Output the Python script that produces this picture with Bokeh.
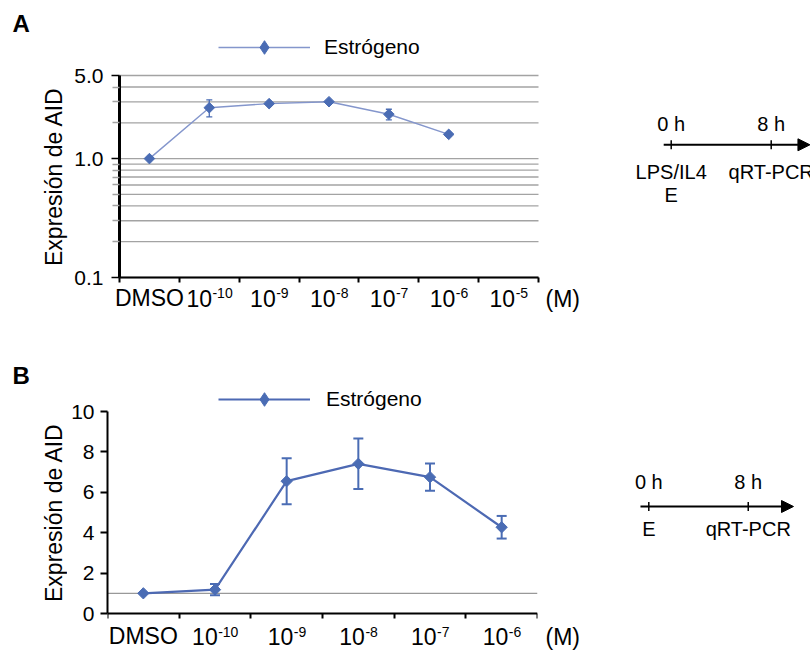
import numpy as np
from bokeh.plotting import figure
from bokeh.models import (ColumnDataSource, Range1d, FixedTicker, CustomJSTickFormatter,
                          Whisker, TeeHead, Legend, LegendItem, Span, Arrow, NormalHead)
from bokeh.layouts import row, column
from bokeh.core.properties import value
from bokeh.embed import file_html
from bokeh.resources import INLINE

FONT = "Liberation Sans"
MARK = "#4a6cb4"
LINE_A = "#8496cc"
LINE_B = "#4d69b3"
GRID = "#a3a3a3"


def shift(size):
    # svg text glyph baseline correction (px)
    return 0.4 * size


# ---------------- data ----------------
series_name = "Estrógeno"
y_title = "Expresión de AID"
unit_label = "(M)"
panel_letters = ["A", "B"]

a_label_base = ["DMSO", "10", "10", "10", "10", "10", "10"]
a_label_exp = ["", "-10", "-9", "-8", "-7", "-6", "-5"]
a_values = [1.00, 2.68, 2.90, 3.01, 2.36, 1.60]
a_sd = [0.00, 0.44, 0.04, 0.04, 0.24, 0.05]
a_major_ticks = [0.1, 1.0, 5.0]
a_minor_ticks = [0.2, 0.3, 0.4, 0.5, 0.6, 0.7, 0.8, 0.9, 2.0, 3.0, 4.0]

b_label_base = ["DMSO", "10", "10", "10", "10", "10"]
b_label_exp = ["", "-10", "-9", "-8", "-7", "-6"]
b_values = [1.00, 1.18, 6.55, 7.41, 6.75, 4.27]
b_sd = [0.00, 0.28, 1.14, 1.25, 0.67, 0.56]
b_ticks = [0, 2, 4, 6, 8, 10]
b_baseline = 1.0

tl_times = [0, 8]
tl_time_labels = ["0 h", "8 h"]
tl_a_event_time = [0, 0, 8]
tl_a_event_text = ["LPS/IL4", "E", "qRT-PCR"]
tl_a_event_row = [0, 1, 0]
tl_b_event_time = [0, 8]
tl_b_event_text = ["E", "qRT-PCR"]
tl_b_event_row = [0, 0]

# ---------------- helpers ----------------
CW = {"0": 0.556, "1": 0.556, "2": 0.556, "3": 0.556, "4": 0.556, "5": 0.556, "6": 0.556,
      "7": 0.556, "8": 0.556, "9": 0.556, "-": 0.333, "D": 0.722, "M": 0.833, "S": 0.667,
      "O": 0.778}
LEG_GLYPH_H = 34


def tw(s, size):
    return sum(CW.get(c, 0.6) for c in s) * size


def style_common(p):
    p.outline_line_color = None
    p.background_fill_color = "white"
    p.border_fill_color = "white"
    p.xgrid.visible = False


def style_xaxis(p, n, y_at):
    ax = p.xaxis[0]
    ax.fixed_location = y_at
    ax.bounds = (0, n)
    ax.ticker = FixedTicker(ticks=[i + 0.5 for i in range(n)], minor_ticks=list(range(n + 1)))
    ax.formatter = CustomJSTickFormatter(code="return '';")
    ax.major_tick_out = 0
    ax.major_tick_in = 0
    ax.minor_tick_out = 5
    ax.minor_tick_in = 0
    ax.minor_tick_line_color = "black"
    ax.minor_tick_line_width = 2
    ax.axis_line_width = 2
    ax.axis_line_color = "black"
    ax.major_label_text_font_size = "1px"
    ax.major_label_standoff = 0


def add_xlabels(p, base, exp, y_at, drop, rise, fs=23, efs=14):
    xs = [i + 0.5 for i in range(len(base))]
    dx = []
    for b, e in zip(base, exp):
        wb, we = tw(b, fs), tw(e, efs)
        dx.append(wb - (wb + we) / 2.0)
    src = ColumnDataSource(dict(x=xs, y=[y_at] * len(xs), base=base, exp=exp, dx=dx,
                                dxe=[d + 0.5 for d in dx]))
    p.text(x="x", y="y", text="base", source=src, x_offset="dx", y_offset=drop - shift(fs),
           text_align="right", text_baseline="alphabetic", text_font=value(FONT),
           text_font_size=f"{fs}px", text_color="black")
    p.text(x="x", y="y", text="exp", source=src, x_offset="dxe",
           y_offset=drop - rise - shift(efs),
           text_align="left", text_baseline="alphabetic", text_font=value(FONT),
           text_font_size=f"{efs}px", text_color="black")


def style_yaxis(ax, standoff, width, tick):
    ax.axis_line_width = width
    ax.major_tick_out = tick
    ax.major_tick_in = 0
    ax.minor_tick_in = 0
    ax.major_label_text_font = FONT
    ax.major_label_text_font_size = "21px"
    ax.major_label_text_color = "black"
    ax.major_label_standoff = standoff


def make_legend(p, line_r, vx, vy, standoff, dsize):
    # marker sample for the legend (a diamond; the plotted markers are rotated squares)
    sample = p.scatter(x=[np.nan], y=[np.nan], marker="diamond", size=dsize,
                       fill_color=MARK, line_color=MARK)
    return Legend(items=[LegendItem(label=series_name, renderers=[line_r, sample])],
                  location=(vx, vy - 6), glyph_width=92, glyph_height=LEG_GLYPH_H,
                  label_height=20, label_standoff=standoff, padding=0, margin=0, spacing=0,
                  border_line_color=None, background_fill_alpha=0,
                  label_text_font=FONT, label_text_font_size="21px", label_text_color="black")


def side_fig(width, height, letter, letter_base, title_x, title_y):
    f = figure(width=width, height=height, x_range=Range1d(0, width), y_range=Range1d(height, 0),
               x_axis_location=None, y_axis_location=None, title=None,
               output_backend="svg", toolbar_location=None, min_border=0)
    f.outline_line_color = None
    f.xgrid.visible = False
    f.ygrid.visible = False
    f.text(x=[12], y=[letter_base - shift(24)], text=[letter], text_align="left",
           text_baseline="alphabetic", text_font=value(FONT), text_font_size="24px",
           text_font_style="bold", text_color="black")
    f.text(x=[title_x], y=[title_y], text=[y_title], angle=np.pi / 2, text_align="center",
           text_baseline="middle", text_font=value(FONT), text_font_size="23px",
           text_color="black")
    return f


# ---------------- panel A ----------------
# the frame fills the whole figure; axes sit inside it at fixed locations
A_W, A_H, A_LEFT, A_RIGHT = 472, 330, 49, 4
A_CORE_TOP, A_CORE_BOT = 75, 277
nA = len(a_label_base)
xa = np.arange(len(a_values)) + 0.5
a_ppc = (A_W - A_LEFT - A_RIGHT) / nA
a_lo, a_hi = a_major_ticks[0], a_major_ticks[-1]
a_ppd = (A_CORE_BOT - A_CORE_TOP) / np.log10(a_hi / a_lo)
a_top = a_hi * 10 ** (A_CORE_TOP / a_ppd)
a_bot = a_lo / 10 ** ((A_H - A_CORE_BOT) / a_ppd)
pa = figure(width=A_W, height=A_H,
            x_range=Range1d(-A_LEFT / a_ppc, nA + A_RIGHT / a_ppc),
            y_range=Range1d(a_bot, a_top), y_axis_type="log",
            title=None, output_backend="svg", toolbar_location=None, min_border=0)
style_common(pa)
pa.ygrid.visible = False
style_xaxis(pa, nA, a_lo)
ya = pa.yaxis[0]
ya.fixed_location = 0
ya.bounds = (a_lo, a_hi)
ya.ticker = FixedTicker(ticks=a_major_ticks, minor_ticks=a_minor_ticks)
ya.formatter = CustomJSTickFormatter(code="return tick.toFixed(1)")
style_yaxis(ya, 8, 3, 8)
ya.major_tick_line_width = 1.5
ya.minor_tick_out = 7
ya.minor_tick_line_color = GRID
ya.minor_tick_line_width = 1.3
# horizontal grid lines across the category span only
a_grid = a_major_ticks + a_minor_ticks
pa.segment(x0=[0] * len(a_grid), x1=[nA] * len(a_grid), y0=a_grid, y1=a_grid,
           line_color=GRID, line_width=1.3, level="underlay")

srcA = ColumnDataSource(dict(x=xa, y=a_values))
errA = [(x, v, s) for x, v, s in zip(xa, a_values, a_sd) if s > 0]
esrcA = ColumnDataSource(dict(x=[e[0] for e in errA],
                              upper=[e[1] + e[2] for e in errA],
                              lower=[e[1] - e[2] for e in errA]))
pa.add_layout(Whisker(base="x", upper="upper", lower="lower", source=esrcA,
                      line_color=MARK, line_width=1.3, level="underlay",
                      upper_head=TeeHead(size=6, line_color=MARK, line_width=1.3),
                      lower_head=TeeHead(size=6, line_color=MARK, line_width=1.3)))
lA = pa.line("x", "y", source=srcA, line_color=LINE_A, line_width=1.4)
pa.scatter("x", "y", source=srcA, marker="square", angle=np.pi / 4, size=7.5,
           fill_color=MARK, line_color=MARK)
pa.add_layout(make_legend(pa, lA, 99 + A_LEFT, 219 + (A_H - A_CORE_BOT), 14, 17))
add_xlabels(pa, a_label_base, a_label_exp, a_lo, 30, 9)

# ---------------- panel B ----------------
B_W, B_H, B_LEFT, B_RIGHT = 475, 322, 40, 5
B_CORE_TOP, B_CORE_BOT = 81, 283
nB = len(b_label_base)
xb = np.arange(len(b_values)) + 0.5
b_lo, b_hi = b_ticks[0], b_ticks[-1]
b_ppu = (B_CORE_BOT - B_CORE_TOP) / (b_hi - b_lo)
b_top = b_hi + B_CORE_TOP / b_ppu
b_bot = b_lo - (B_H - B_CORE_BOT) / b_ppu
pb = figure(width=B_W, height=B_H, x_range=Range1d(0, nB),
            y_range=Range1d(b_bot, b_top),
            title=None, output_backend="svg", toolbar_location=None,
            min_border_left=B_LEFT, min_border_right=B_RIGHT, min_border_top=0,
            min_border_bottom=0)
style_common(pb)
pb.ygrid.visible = False
style_xaxis(pb, nB, b_lo)
yb = pb.yaxis[0]
yb.bounds = (b_lo, b_hi)
yb.ticker = FixedTicker(ticks=b_ticks)
style_yaxis(yb, 6, 2, 7)
yb.major_tick_line_width = 2
yb.minor_tick_out = 0

pb.add_layout(Span(location=b_baseline, dimension="width", line_color="#999999",
                   line_width=1.3, level="underlay"))
srcB = ColumnDataSource(dict(x=xb, y=b_values))
errB = [(x, v, s) for x, v, s in zip(xb, b_values, b_sd) if s > 0]
esrcB = ColumnDataSource(dict(x=[e[0] for e in errB],
                              upper=[e[1] + e[2] for e in errB],
                              lower=[e[1] - e[2] for e in errB]))
pb.add_layout(Whisker(base="x", upper="upper", lower="lower", source=esrcB,
                      line_color=MARK, line_width=2, level="underlay",
                      upper_head=TeeHead(size=10, line_color=MARK, line_width=2),
                      lower_head=TeeHead(size=10, line_color=MARK, line_width=2)))
lB = pb.line("x", "y", source=srcB, line_color=LINE_B, line_width=2.2)
pb.scatter("x", "y", source=srcB, marker="square", angle=np.pi / 4, size=8,
           fill_color=MARK, line_color=MARK)
pb.add_layout(make_legend(pb, lB, 111, 203 + (B_H - B_CORE_BOT), 16, 18))
add_xlabels(pb, b_label_base, b_label_exp, b_lo, 32, 8)


# ---------------- timelines (+ unit label) ----------------
def timeline(width, height, line_y, h0_px, px_per_h, a_start, a_end,
             ev_t, ev_text, ev_row, time_dy, ev_dy, row_gap, unit_baseline):
    x0 = -h0_px / px_per_h
    t = figure(width=width, height=height,
               x_range=Range1d(x0, (width - h0_px) / px_per_h),
               y_range=Range1d(-(height - line_y), line_y),
               x_axis_location=None, y_axis_location=None, title=None,
               output_backend="svg", toolbar_location=None, min_border=0)
    t.outline_line_color = None
    t.xgrid.visible = False
    t.ygrid.visible = False
    t.add_layout(Arrow(end=NormalHead(size=12, fill_color="black", line_color="black"),
                       x_start=a_start, y_start=0, x_end=a_end, y_end=0,
                       line_color="black", line_width=2))
    t.segment(x0=tl_times, y0=[-4.5] * len(tl_times), x1=tl_times, y1=[4.5] * len(tl_times),
              line_color="black", line_width=1.5)
    t.text(x=tl_times, y=[time_dy + 9] * len(tl_times), text=tl_time_labels,
           text_align="center", text_baseline="alphabetic",
           text_font=value(FONT), text_font_size="20px", text_color="black")
    t.text(x=ev_t, y=[-(ev_dy + row_gap * r) + 9 for r in ev_row], text=ev_text,
           text_align="center", text_baseline="alphabetic",
           text_font=value(FONT), text_font_size="20px", text_color="black")
    # unit of the concentration axis, sitting just right of the panel's x axis
    t.text(x=[x0], y=[line_y - unit_baseline + 9], x_offset=3, text=[unit_label],
           text_align="left", text_baseline="alphabetic",
           text_font=value(FONT), text_font_size="23px", text_color="black")
    return t


ta = timeline(268, 330, 144.3, 128.7, 12.5, -0.6, 11.1,
              tl_a_event_time, tl_a_event_text, tl_a_event_row, 12, 36, 23, 307)
tb = timeline(268, 322, 176, 106.3, 12.43, -0.67, 11.64,
              tl_b_event_time, tl_b_event_text, tl_b_event_row, 16, 31, 23, 315)

la = side_fig(70, 330, panel_letters[0], 33, 53, 176)
lb = side_fig(67, 322, panel_letters[1], 55, 53, 182)

layout = column(row(la, pa, ta), row(lb, pb, tb))
open("out.html", "w").write(file_html(layout, INLINE))
